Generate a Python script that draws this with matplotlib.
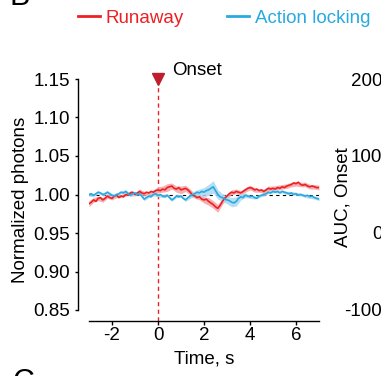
import numpy as np
import matplotlib
matplotlib.use("Agg")
import matplotlib.pyplot as plt

plt.rcParams['font.family'] = ['Liberation Sans', 'DejaVu Sans']

# ---------------- data ----------------
time_s = np.round(np.arange(-3.0, 7.0001, 0.1), 2)

runaway_mean = [0.988, 0.990, 0.993, 0.991, 0.995, 0.996, 0.993, 0.995, 0.998, 0.996,
                0.995, 0.998, 0.999, 0.996, 0.998, 0.997, 1.000, 0.999, 1.002, 1.003,
                1.000, 1.002, 1.004, 1.002, 1.001, 1.003, 1.002, 1.004, 1.003, 1.005,
                1.006, 1.005, 1.007, 1.006, 1.009, 1.010, 1.011, 1.008, 1.007, 1.009,
                1.006, 1.007, 1.008, 1.006, 1.003, 0.999, 0.998, 0.996, 0.997, 0.994,
                0.993, 0.994, 0.991, 0.989, 0.987, 0.984, 0.982, 0.986, 0.991, 0.995,
                0.998, 1.001, 1.003, 1.002, 1.004, 1.003, 1.002, 1.004, 1.006, 1.008,
                1.009, 1.008, 1.006, 1.007, 1.005, 1.006, 1.004, 1.006, 1.008, 1.007,
                1.008, 1.007, 1.009, 1.008, 1.010, 1.009, 1.011, 1.012, 1.013, 1.015,
                1.014, 1.016, 1.013, 1.012, 1.013, 1.011, 1.010, 1.011, 1.010, 1.009,
                1.009]

locking_mean = [1.000, 1.001, 0.999, 1.001, 1.003, 1.002, 1.000, 1.001, 1.003, 1.001,
                0.999, 0.998, 1.000, 1.001, 1.003, 1.002, 1.004, 1.001, 0.999, 1.001,
                1.002, 1.000, 1.001, 0.998, 0.994, 0.996, 0.998, 0.997, 1.000, 1.001,
                0.999, 1.000, 0.998, 0.997, 0.999, 0.996, 0.993, 0.995, 0.998, 0.997,
                0.998, 0.995, 0.993, 0.996, 0.998, 1.000, 1.001, 1.003, 1.002, 1.004,
                1.003, 1.005, 1.006, 1.008, 1.010, 1.005, 1.000, 0.997, 0.996, 0.994,
                0.993, 0.992, 0.990, 0.989, 0.991, 0.995, 0.997, 0.996, 0.999, 0.998,
                0.997, 0.998, 0.996, 0.995, 0.998, 0.999, 1.000, 1.001, 1.003, 1.002,
                1.004, 1.003, 1.004, 1.002, 1.004, 1.003, 1.002, 1.001, 1.002, 1.000,
                1.001, 0.999, 1.000, 0.999, 0.998, 0.999, 0.997, 0.998, 0.996, 0.995,
                0.994]

# SEM sampled every 0.2 s (every second time point)
runaway_sem = [0.004, 0.003, 0.003, 0.003, 0.003, 0.002, 0.003, 0.002, 0.002, 0.003,
               0.002, 0.003, 0.003, 0.002, 0.003, 0.004, 0.004, 0.005, 0.004, 0.004,
               0.005, 0.004, 0.004, 0.003, 0.004, 0.004, 0.005, 0.005, 0.005, 0.004,
               0.003, 0.003, 0.003, 0.003, 0.003, 0.003, 0.003, 0.002, 0.003, 0.003,
               0.003, 0.003, 0.003, 0.003, 0.003, 0.003, 0.003, 0.003, 0.003, 0.003,
               0.003]
locking_sem = [0.002, 0.002, 0.002, 0.002, 0.002, 0.002, 0.002, 0.002, 0.002, 0.002,
               0.002, 0.002, 0.002, 0.002, 0.002, 0.002, 0.002, 0.002, 0.002, 0.002,
               0.002, 0.002, 0.003, 0.004, 0.005, 0.006, 0.007, 0.008, 0.006, 0.005,
               0.005, 0.006, 0.006, 0.004, 0.003, 0.002, 0.002, 0.002, 0.002, 0.002,
               0.002, 0.002, 0.002, 0.002, 0.002, 0.002, 0.002, 0.002, 0.002, 0.002,
               0.002]

onset_time = 0.0
baseline = 1.0
y_ticks = [0.85, 0.90, 0.95, 1.00, 1.05, 1.10, 1.15]
x_ticks = [-2, 0, 2, 4, 6]
auc_ticks = [-100, 0, 100, 200]
labels = ["Runaway", "Action locking"]

RED = "#ED2024"
RED_FILL = "#F4A3A5"
BLUE = "#27AAE1"
BLUE_FILL = "#A9D8F2"
ONSET_RED = "#BE1E2D"

W, H = 381, 376
fig = plt.figure(figsize=(W / 100, H / 100), dpi=100)
FS = 13.5

def fx(px):
    return px / W

def fy(py):
    return 1 - py / H

# main axes: x from 89 to 319 px, y from 79 (top) to 321 (bottom)
ax = fig.add_axes([fx(89), fy(321), fx(319) - fx(89), fy(79) - fy(321)])
ymin = 0.85 - 11 / 770
ax.set_xlim(-3, 7)
ax.set_ylim(ymin, 1.15)

ax.axhline(baseline, color="black", lw=0.8, ls=(0, (3, 3)), zorder=1)
ax.axvline(onset_time, ymax=0.985, color=RED, lw=1.0, ls=(0, (3, 2.5)), zorder=1)

t = np.asarray(time_s)
rm = np.asarray(runaway_mean)
bm = np.asarray(locking_mean)
ts = t[::2]
rs = np.asarray(runaway_sem)
bs = np.asarray(locking_sem)
ax.fill_between(ts, rm[::2] - rs, rm[::2] + rs, color=RED_FILL, lw=0, alpha=0.85, zorder=2)
ax.fill_between(ts, bm[::2] - bs, bm[::2] + bs, color=BLUE_FILL, lw=0, alpha=0.85, zorder=2)
ax.plot(t, rm, color=RED, lw=1.2, zorder=3, label=labels[0])
ax.plot(t, bm, color=BLUE, lw=1.2, zorder=4, label=labels[1])

ax.plot([onset_time], [1.15], marker="v", color=ONSET_RED, ms=9, clip_on=False, zorder=5)
ax.text(onset_time + 0.6, 1.1615, "Onset", fontsize=FS, ha="left", va="center")

for s in ["top", "right"]:
    ax.spines[s].set_visible(False)
ax.spines["left"].set_position(("outward", 8))
ax.spines["left"].set_bounds(0.85, 1.15)
ax.spines["left"].set_linewidth(1.0)
ax.spines["bottom"].set_linewidth(1.0)
ax.set_yticks(y_ticks)
ax.set_yticklabels([f"{v:.2f}" for v in y_ticks])
ax.set_xticks(x_ticks)
ax.set_xticklabels([str(v) for v in x_ticks])
ax.tick_params(axis="y", length=2, width=1, pad=3.5, labelsize=FS)
ax.tick_params(axis="x", length=3, width=1, pad=1, labelsize=FS)
ax.set_xlabel("Time, s", fontsize=FS, labelpad=5)
ax.set_ylabel("Normalized photons", fontsize=FS, labelpad=3)

leg = ax.legend(loc="center left", bbox_to_anchor=(fx(78), fy(18)),
                bbox_transform=fig.transFigure, ncol=2, frameon=False,
                fontsize=FS, handlelength=1.17, handletextpad=0.32,
                columnspacing=2.3, borderpad=0, borderaxespad=0,
                labelcolor="linecolor")
for h in leg.get_lines():
    h.set_linewidth(2.0)

# partially visible neighbouring panel on the right
ax2 = fig.add_axes([fx(390), fy(321), 0.3, fy(79) - fy(321)])
ax2.set_ylim(-100 - 12 / 76.7 * 100, 200)
ax2.set_yticks(auc_ticks)
ax2.set_yticklabels([str(v) for v in auc_ticks])
ax2.tick_params(axis="y", length=2, width=1, pad=3.5, labelsize=FS)
ax2.set_xticks([])
for s in ["top", "right", "bottom"]:
    ax2.spines[s].set_visible(False)
fig.text(fx(343), fy(197), "AUC, Onset", rotation=90, ha="center", va="center", fontsize=FS)

# panel letters (clipped by figure edges)
fig.text(fx(9), fy(5), "B", fontsize=22, ha="left", va="baseline")
fig.text(fx(13), fy(391), "C", fontsize=22, ha="left", va="baseline")

fig.savefig("out.png", dpi=100)
